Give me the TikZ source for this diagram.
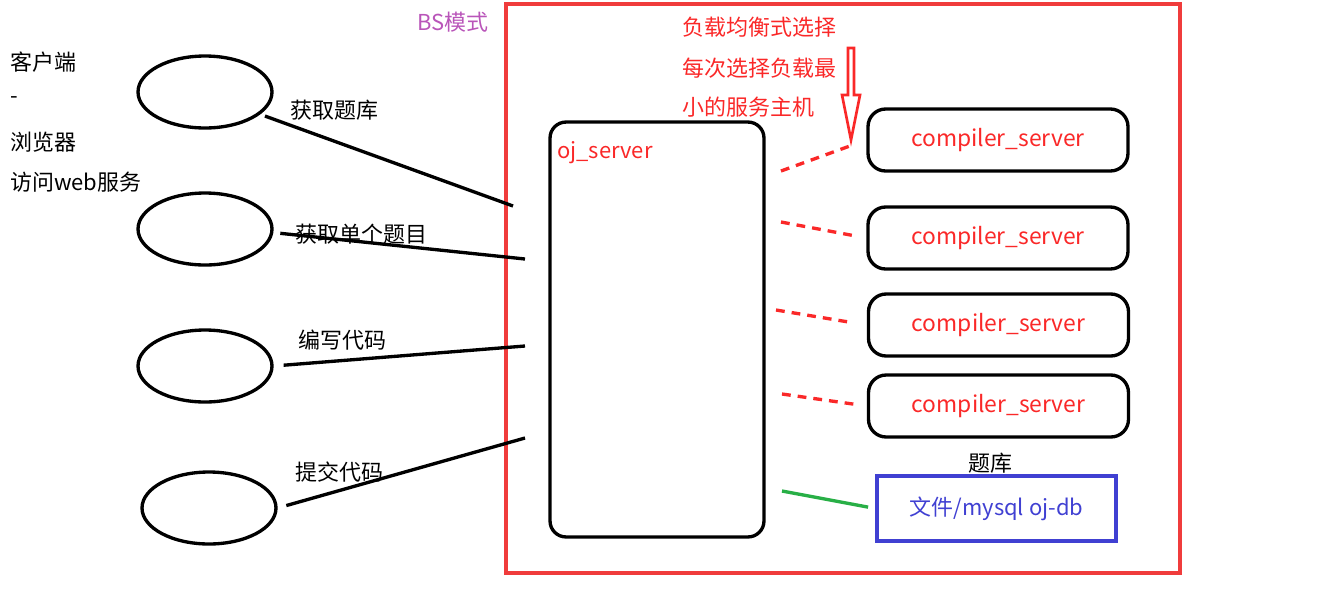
\documentclass[tikz,border=0pt]{standalone}
\usepackage{fontspec}
\setmainfont{Noto Sans CJK SC}
\usetikzlibrary{shapes.geometric}
\definecolor{framered}{RGB}{240,60,60}
\definecolor{txtred}{RGB}{250,40,40}
\definecolor{bspurple}{RGB}{185,85,185}
\definecolor{dbblue}{RGB}{64,64,210}
\definecolor{linkgreen}{RGB}{40,175,70}
\tikzset{
  client/.style={ellipse,draw,line width=1.9pt,minimum width=2.68cm,minimum height=1.44cm},
  tag/.style={anchor=west,inner sep=0pt},
  wire/.style={line width=1.9pt},
  compbox/.style={draw,line width=1.9pt,rounded corners=10pt,minimum width=5.2cm,minimum height=1.24cm,text=txtred,font=\fontsize{13pt}{15pt}\selectfont},
  redlink/.style={draw=txtred,line width=1.9pt,dash pattern=on 5pt off 4pt},
}
\begin{document}
\begin{tikzpicture}[x=0.02cm,y=-0.02cm,font=\fontsize{12.5pt}{15pt}\selectfont]
\useasboundingbox (0,0) rectangle (1335,613);
\node at (10,62) [tag] (t1) {客户端};
\node at (10,100) [tag] (t2) {-};
\node at (10,142) [tag] (t3) {浏览器};
\node at (10,182) [tag] (t4) {访问web服务};
\node at (205,92) [client] (c1) {};
\node at (205,229) [client] (c2) {};
\node at (205,366) [client] (c3) {};
\node at (209,508) [client] (c4) {};
\node at (290,110) [tag] (l1) {获取题库};
\node at (295,234) [tag] (l2) {获取单个题目};
\node at (298,340) [tag] (l3) {编写代码};
\node at (295,472) [tag] (l4) {提交代码};
\draw[framered,line width=1.8pt] (506,4) rectangle (1180,573);
\node at (417,22) [tag,text=bspurple] (bs) {BS模式};
\node at (657,329.5) [draw,line width=1.9pt,rounded corners=0.32cm,minimum width=4.28cm,minimum height=8.3cm] (oj) {};
\node at (557,153) [tag,text=txtred] (ojname) {oj\_server};
\coordinate (q1) at (513,206);
\coordinate (q2) at (525,259);
\coordinate (q3) at (525,346);
\coordinate (q4) at (525,438);
\draw[wire,shorten <=0.1cm] (c1.-22) -- (q1);
\draw[wire,shorten <=0.14cm] (c2.-3) -- (q2);
\draw[wire,shorten <=0.2cm] (c3.east) -- (q3);
\draw[wire,shorten <=0.18cm] (c4.east) -- (q4);
\node at (682,27) [tag,text=txtred] (n1) {负载均衡式选择};
\node at (682,68) [tag,text=txtred] (n2) {每次选择负载最};
\node at (682,107) [tag,text=txtred] (n3) {小的服务主机};
\draw[txtred,line width=1.5pt] (848,48) -- (854,48) -- (854,95) -- (860,95) -- (851,140) -- (842,95) -- (848,95) -- cycle;
\node at (998,140) [compbox] (cs1) {compiler\_server};
\node at (998,238) [compbox] (cs2) {compiler\_server};
\node at (998.5,325) [compbox] (cs3) {compiler\_server};
\node at (998.5,406) [compbox] (cs4) {compiler\_server};
\coordinate (d1) at (781,171);
\coordinate (d2) at (781,222);
\coordinate (d3) at (776,310);
\coordinate (d4) at (782,394);
\draw[redlink,shorten >=0.28cm] (d1) -- (cs1.west);
\draw[redlink,shorten >=0.28cm] (d2) -- (cs2.west);
\draw[redlink,shorten >=0.4cm] (d3) -- (cs3.west);
\draw[redlink,shorten >=0.2cm] (d4) -- (cs4.west);
\node at (990,463) (dbname) {题库};
\node at (996.5,508.5) [draw=dbblue,line width=1.8pt,minimum width=4.78cm,minimum height=1.3cm,text=dbblue] (db) {文件/mysql oj-db};
\coordinate (g1) at (782,491);
\draw[linkgreen,line width=1.9pt,shorten >=0.15cm] (g1) -- (db.west);
\end{tikzpicture}
\end{document}
